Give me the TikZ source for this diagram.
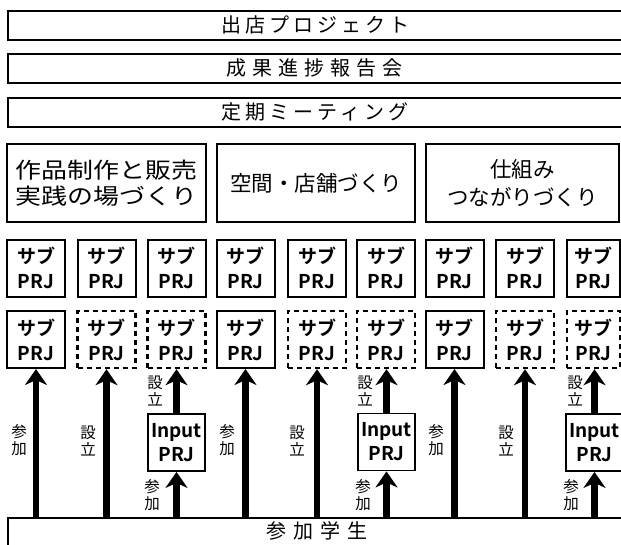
\documentclass[tikz,border=0pt]{standalone}
\usepackage{fontspec}
\setmainfont{Noto Sans CJK JP}[BoldFont={Noto Sans CJK JP Bold}]
\newfontfamily\jpwide{Noto Sans CJK JP}[FakeStretch=1.18]
\usetikzlibrary{arrows.meta}
\begin{document}
\begin{tikzpicture}[x=1pt,y=-1pt,
  banner/.style={draw, line width=2.2pt, minimum height=29pt, minimum width=660pt, anchor=north west, inner sep=0pt},
  bannertext/.style={inner sep=0pt, font=\fontsize{20}{24}\selectfont\addfontfeature{LetterSpace=20}},
  bigbox/.style={draw, line width=2pt, minimum height=78pt, align=center, inner sep=0pt},
  subbox/.style={draw, line width=2pt, minimum width=58pt, minimum height=57pt, align=center, inner sep=0pt, font=\bfseries\fontsize{19}{25}\selectfont},
  dsubbox/.style={subbox, line width=2.4pt, dash pattern=on 5pt off 4pt},
  inbox/.style={subbox, line width=1.8pt, minimum width=57pt, minimum height=57pt, font=\bfseries\fontsize{19}{24}\selectfont},
  lbl/.style={inner sep=0pt, align=center, font=\fontsize{15.5}{16.5}\selectfont},
  up/.style={line width=6.5pt, -{Stealth[length=16pt, width=22pt, inset=5pt]}}
]
\useasboundingbox (0,0) rectangle (621,544);
\clip (0,0) rectangle (621,544);

% top banners
\node[banner] (b1) at (7,10) {};
\node[bannertext] (t1) at (315,24.5) {出店プロジェクト};
\node[banner] (b2) at (7,53) {};
\node[bannertext, font=\fontsize{20}{24}\selectfont\addfontfeature{LetterSpace=30}] (t2) at (314,67.5) {成果進捗報告会};
\node[banner] (b3) at (7,97) {};
\node[bannertext] (t3) at (315,111.5) {定期ミーティング};

% middle row
\node[bigbox, minimum width=199pt, font=\jpwide\fontsize{22}{26}\selectfont] (m1) at (106.5,183) {作品制作と販売\\実践の場づくり};
\node[bigbox, minimum width=198pt, font=\fontsize{21.5}{26}\selectfont] (m2) at (316,183) {空間・店舗づくり};
\node[bigbox, minimum width=193pt, font=\fontsize{21.5}{28}\selectfont] (m3) at (522.5,183) {仕組み\\つながりづくり};

% sub PRJ row 1
\foreach \x [count=\i] in {36,106.5,176.5,245.5,317,386,454.5,525} {
  \node[subbox] (r1c\i) at (\x,268) {サブ\\PRJ};
}
\node[subbox, minimum width=53pt] (r1c9) at (593.5,268) {サブ\\PRJ};

% sub PRJ row 2
\node[subbox]  (r2c1) at (36,339.5) {サブ\\PRJ};
\node[dsubbox] (r2c2) at (106.5,339.5) {サブ\\PRJ};
\node[dsubbox] (r2c3) at (176.5,339.5) {サブ\\PRJ};
\node[subbox]  (r2c4) at (245.5,339.5) {サブ\\PRJ};
\node[dsubbox] (r2c5) at (317,339.5) {サブ\\PRJ};
\node[dsubbox] (r2c6) at (386,339.5) {サブ\\PRJ};
\node[subbox]  (r2c7) at (454.5,339.5) {サブ\\PRJ};
\node[dsubbox] (r2c8) at (525,339.5) {サブ\\PRJ};
\node[dsubbox, minimum width=53pt] (r2c9) at (593.5,339.5) {サブ\\PRJ};

% Input PRJ boxes
\node[inbox] (in3) at (176.5,442.5) {Input\\PRJ};
\node[inbox] (in6) at (386.5,442) {Input\\PRJ};
\node[inbox] (in9) at (594.5,442.5) {Input\\PRJ};

% bottom box
\node[draw, line width=2pt, anchor=north west, minimum width=660pt, minimum height=50pt, inner sep=0pt] (stud) at (7,517) {};
\node[inner sep=0pt, font=\fontsize{20}{24}\selectfont\addfontfeature{LetterSpace=35}] (studtxt) at (317,531) {参加学生};

% arrows
\draw[up] (r2c1 |- stud.north) -- (r2c1.south);
\draw[up] (r2c2 |- stud.north) -- (r2c2.south);
\draw[up] (in3 |- stud.north) -- (in3.south);
\draw[up] (in3.north) -- (in3.north |- r2c3.south);
\draw[up] (r2c4 |- stud.north) -- (r2c4.south);
\draw[up] (r2c5 |- stud.north) -- (r2c5.south);
\draw[up] (in6 |- stud.north) -- (in6.south);
\draw[up] (in6.north) -- (in6.north |- r2c6.south);
\draw[up] (r2c7 |- stud.north) -- (r2c7.south);
\draw[up] (r2c8 |- stud.north) -- (r2c8.south);
\draw[up] (in9 |- stud.north) -- (in9.south);
\draw[up] (in9.north) -- (in9.north |- r2c9.south);

% labels
\node[lbl] (l1) at (19,440) {参\\加};
\node[lbl] (l2) at (88,441) {設\\立};
\node[lbl] (l3a) at (155,391) {設\\立};
\node[lbl] (l3b) at (152,495) {参\\加};
\node[lbl] (l4) at (227,440) {参\\加};
\node[lbl] (l5) at (297,441) {設\\立};
\node[lbl] (l6a) at (365,391) {設\\立};
\node[lbl] (l6b) at (363,495) {参\\加};
\node[lbl] (l7) at (436,440) {参\\加};
\node[lbl] (l8) at (506,441) {設\\立};
\node[lbl] (l9a) at (575,391) {設\\立};
\node[lbl] (l9b) at (571,495) {参\\加};
\end{tikzpicture}
\end{document}
